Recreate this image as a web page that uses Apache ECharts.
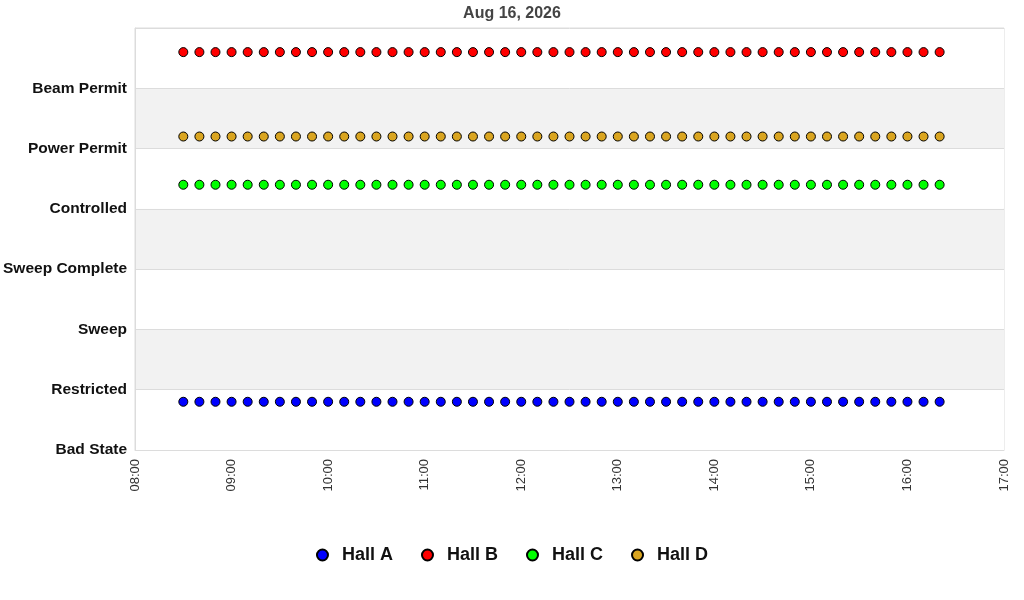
<!DOCTYPE html>
<html>
<head>
<meta charset="utf-8">
<title>Hall States</title>
<script src="https://cdn.jsdelivr.net/npm/echarts@6/dist/echarts.min.js"></script>
<style>
  html, body { margin: 0; padding: 0; background: #fff; }
  #chart { width: 1024px; height: 600px; }
</style>
</head>
<body>
<div id="chart"></div>
<script>
// sample times (HH:MM)
const times = [
  '08:30', '08:40', '08:50', '09:00', '09:10', '09:20', '09:30', '09:40', '09:50', '10:00',
  '10:10', '10:20', '10:30', '10:40', '10:50', '11:00', '11:10', '11:20', '11:30', '11:40',
  '11:50', '12:00', '12:10', '12:20', '12:30', '12:40', '12:50', '13:00', '13:10', '13:20',
  '13:30', '13:40', '13:50', '14:00', '14:10', '14:20', '14:30', '14:40', '14:50', '15:00',
  '15:10', '15:20', '15:30', '15:40', '15:50', '16:00', '16:10', '16:20'
];

// state labels, bottom to top
const stateLabels = ['Bad State', 'Restricted', 'Sweep', 'Sweep Complete', 'Controlled', 'Power Permit', 'Beam Permit', ''];

const hallA = [
  0.8, 0.8, 0.8, 0.8, 0.8, 0.8, 0.8, 0.8, 0.8, 0.8, 0.8, 0.8, 0.8, 0.8, 0.8, 0.8,
  0.8, 0.8, 0.8, 0.8, 0.8, 0.8, 0.8, 0.8, 0.8, 0.8, 0.8, 0.8, 0.8, 0.8, 0.8, 0.8,
  0.8, 0.8, 0.8, 0.8, 0.8, 0.8, 0.8, 0.8, 0.8, 0.8, 0.8, 0.8, 0.8, 0.8, 0.8, 0.8
];
const hallB = [
  6.6, 6.6, 6.6, 6.6, 6.6, 6.6, 6.6, 6.6, 6.6, 6.6, 6.6, 6.6, 6.6, 6.6, 6.6, 6.6,
  6.6, 6.6, 6.6, 6.6, 6.6, 6.6, 6.6, 6.6, 6.6, 6.6, 6.6, 6.6, 6.6, 6.6, 6.6, 6.6,
  6.6, 6.6, 6.6, 6.6, 6.6, 6.6, 6.6, 6.6, 6.6, 6.6, 6.6, 6.6, 6.6, 6.6, 6.6, 6.6
];
const hallC = [
  4.4, 4.4, 4.4, 4.4, 4.4, 4.4, 4.4, 4.4, 4.4, 4.4, 4.4, 4.4, 4.4, 4.4, 4.4, 4.4,
  4.4, 4.4, 4.4, 4.4, 4.4, 4.4, 4.4, 4.4, 4.4, 4.4, 4.4, 4.4, 4.4, 4.4, 4.4, 4.4,
  4.4, 4.4, 4.4, 4.4, 4.4, 4.4, 4.4, 4.4, 4.4, 4.4, 4.4, 4.4, 4.4, 4.4, 4.4, 4.4
];
const hallD = [
  5.2, 5.2, 5.2, 5.2, 5.2, 5.2, 5.2, 5.2, 5.2, 5.2, 5.2, 5.2, 5.2, 5.2, 5.2, 5.2,
  5.2, 5.2, 5.2, 5.2, 5.2, 5.2, 5.2, 5.2, 5.2, 5.2, 5.2, 5.2, 5.2, 5.2, 5.2, 5.2,
  5.2, 5.2, 5.2, 5.2, 5.2, 5.2, 5.2, 5.2, 5.2, 5.2, 5.2, 5.2, 5.2, 5.2, 5.2, 5.2
];

const halls = [
  { name: 'Hall A', color: '#0000ff', values: hallA },
  { name: 'Hall B', color: '#ff0000', values: hallB },
  { name: 'Hall C', color: '#00ff00', values: hallC },
  { name: 'Hall D', color: '#daa520', values: hallD }
];

// minutes since midnight, so the x axis can be a plain value axis
const toMinutes = (t) => {
  const parts = t.split(':');
  return Number(parts[0]) * 60 + Number(parts[1]);
};
const pad = (n) => (n < 10 ? '0' + n : '' + n);

const chart = echarts.init(document.getElementById('chart'));

const option = {
  animation: false,
  title: {
    text: 'Aug 16, 2026',
    left: 'center',
    top: 1,
    textStyle: { fontFamily: 'Liberation Sans', fontSize: 16, fontWeight: 'bold', color: '#444' }
  },
  legend: {
    bottom: 31,
    left: 'center',
    itemGap: 28,
    itemWidth: 11,
    itemHeight: 11,
    icon: 'circle',
    textStyle: { fontFamily: 'Liberation Sans', fontSize: 18, fontWeight: 'bold', color: '#111', padding: [0, 0, 0, 9] },
    data: halls.map((h) => h.name)
  },
  grid: {
    left: 135,
    right: 20,
    top: 28,
    bottom: 150,
    show: true,
    borderColor: '#dcdcdc',
    borderWidth: 1
  },
  xAxis: {
    type: 'value',
    min: 480,
    max: 1020,
    interval: 60,
    axisLine: { show: true, lineStyle: { color: '#dcdcdc' } },
    axisTick: { show: false },
    splitLine: { show: false },
    axisLabel: {
      rotate: 90,
      margin: 9,
      fontFamily: 'Liberation Sans',
      fontSize: 13,
      color: '#333',
      formatter: (v) => pad(Math.floor(v / 60)) + ':' + pad(v % 60)
    }
  },
  yAxis: {
    type: 'value',
    min: 0,
    max: 7,
    interval: 1,
    axisLine: { show: true, lineStyle: { color: '#dcdcdc' } },
    axisTick: { show: false },
    splitLine: { show: true, lineStyle: { color: '#dcdcdc' } },
    splitArea: { show: true, areaStyle: { color: ['#ffffff', '#f2f2f2'] } },
    axisLabel: {
      margin: 8,
      padding: [4, 0, 0, 0],
      fontFamily: 'Liberation Sans',
      fontSize: 15.5,
      fontWeight: 'bold',
      color: '#111',
      formatter: (v) => stateLabels[v] || ''
    }
  },
  series: halls.map((h) => ({
    name: h.name,
    type: 'scatter',
    symbol: 'circle',
    symbolSize: 9,
    itemStyle: { color: h.color, borderColor: '#000', borderWidth: 1, opacity: 1 },
    data: times.map((t, i) => [toMinutes(t), h.values[i]])
  }))
};

chart.setOption(option);
</script>
</body>
</html>
